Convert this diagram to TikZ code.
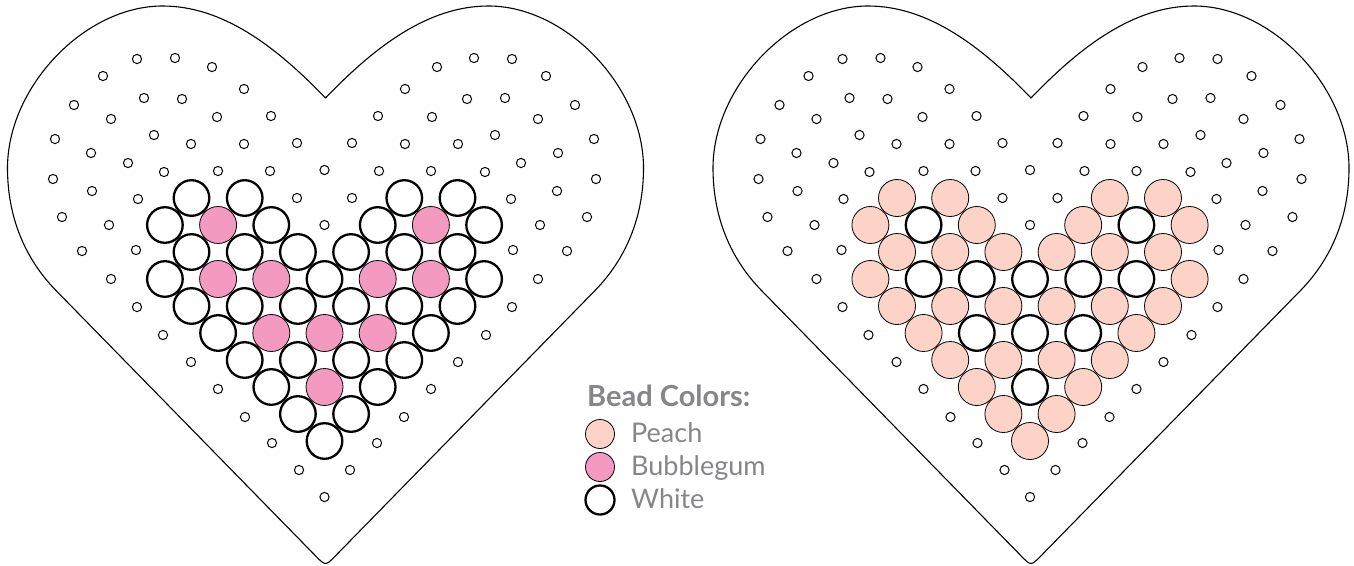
\documentclass[tikz,border=0pt]{standalone}
\usepackage{fontspec}
\setmainfont{Lato}
\definecolor{bubblegum}{HTML}{F49AC1}
\definecolor{peach}{HTML}{FDD3C7}
\definecolor{legendgray}{HTML}{86868A}

\begin{document}
\begin{tikzpicture}[
    x=1pt, y=-1pt,
    board/.style={draw, line width=1.1pt, line join=round},
    peg/.style={draw, line width=1pt},
    bead/.style={draw, fill=#1, line width=0.8pt},
    whitebead/.style={draw, fill=white, line width=2.3pt},
    legend dot/.style={circle, draw, inner sep=0pt, minimum size=29pt},
    legend label/.style={anchor=base west, text=legendgray, inner sep=0pt, font=\fontsize{27}{30}\selectfont}
]
\useasboundingbox (0,0) rectangle (1354,565);

\foreach \cx [evaluate=\cx as \hx using \cx+1] in {324.5,1030} {
    \draw[board] (\hx,98) .. controls (\hx-50,46) and (\hx-103,6) .. (\hx-163,6)
        .. controls (\hx-241,6) and (\hx-318,87) .. (\hx-318,168)
        .. controls (\hx-318,218) and (\hx-300,259) .. (\hx-270,290)
        -- (\hx-10,555.8) .. controls (\hx,566) .. (\hx+10,555.8)
        -- (\hx+270,290)
        .. controls (\hx+300,259) and (\hx+318,218) .. (\hx+318,168)
        .. controls (\hx+318,87) and (\hx+241,6) .. (\hx+163,6)
        .. controls (\hx+103,6) and (\hx+50,46) .. cycle;
    \foreach \dx/\y in {187.5/59,149.5/58,112.5/67,221.5/76,80.5/89,250.5/105,
        180.5/98,142.5/99,107.5/117,53.5/116,213.5/119,269.5/139,170.5/135,
        133.5/144,80.5/144,27.5/143,233.5/153,196.5/163,160.5/172,106.5/171,
        54.5/171,271.5/179,232.5/191,186.5/199,27.5/198,262.5/217,215.5/225,
        242.5/251,188.5/250,213.5/279,187.5/307,161.5/335,133.5/362,106.5/389,
        79.5/417,52.5/443,25.5/470} {
        \draw[peg] (\cx-\dx,\y) circle (4.6pt);
        \draw[peg] (\cx+\dx,\y) circle (4.6pt);
    }
    \foreach \y in {170,225,497}
        \draw[peg] (\cx,\y) circle (4.6pt);
}

% left heart
\foreach \i/\j in {-4/8,4/8,-4/6,-2/6,2/6,4/6,-2/4,0/4,2/4,0/2}
    \draw[bead=bubblegum] ({324.5+26.6*\i},{441-27*\j}) circle (18.5pt);
\foreach \i/\j in {-5/9,-3/9,3/9,5/9,-6/8,-2/8,2/8,6/8,-5/7,-3/7,-1/7,1/7,3/7,5/7,
    -6/6,0/6,6/6,-5/5,-3/5,-1/5,1/5,3/5,5/5,-4/4,4/4,-3/3,-1/3,1/3,3/3,
    -2/2,2/2,-1/1,1/1,0/0}
    \draw[whitebead] ({324.5+26.6*\i},{441-27*\j}) circle (17.8pt);

% right heart
\foreach \i/\j in {-5/9,-3/9,3/9,5/9,-6/8,-2/8,2/8,6/8,-5/7,-3/7,-1/7,1/7,3/7,5/7,
    -6/6,6/6,-5/5,-3/5,-1/5,1/5,3/5,5/5,-4/4,4/4,-3/3,-1/3,1/3,3/3,
    -2/2,2/2,-1/1,1/1,0/0}
    \draw[bead=peach] ({1030+26.6*\i},{441-27*\j}) circle (18.5pt);
\foreach \i/\j in {-4/8,4/8,-4/6,-2/6,0/6,2/6,4/6,-2/4,0/4,2/4,0/2}
    \draw[whitebead] ({1030+26.6*\i},{441-27*\j}) circle (17.8pt);

% legend
\node[anchor=base west, inner sep=0pt, text=legendgray,
    font=\bfseries\fontsize{29}{31}\selectfont] (title) at (587,406) {Bead Colors:};
\node[legend dot, fill=peach, line width=0.8pt] (peachdot) at (600,434) {};
\node[legend label] (peachlabel) at (631,442) {Peach};
\node[legend dot, fill=bubblegum, line width=0.8pt] (pinkdot) at (600,467) {};
\node[legend label] (pinklabel) at (631,475) {Bubblegum};
\node[legend dot, fill=white, line width=2.3pt] (whitedot) at (600,500) {};
\node[legend label] (whitelabel) at (631,508) {White};
\end{tikzpicture}
\end{document}
